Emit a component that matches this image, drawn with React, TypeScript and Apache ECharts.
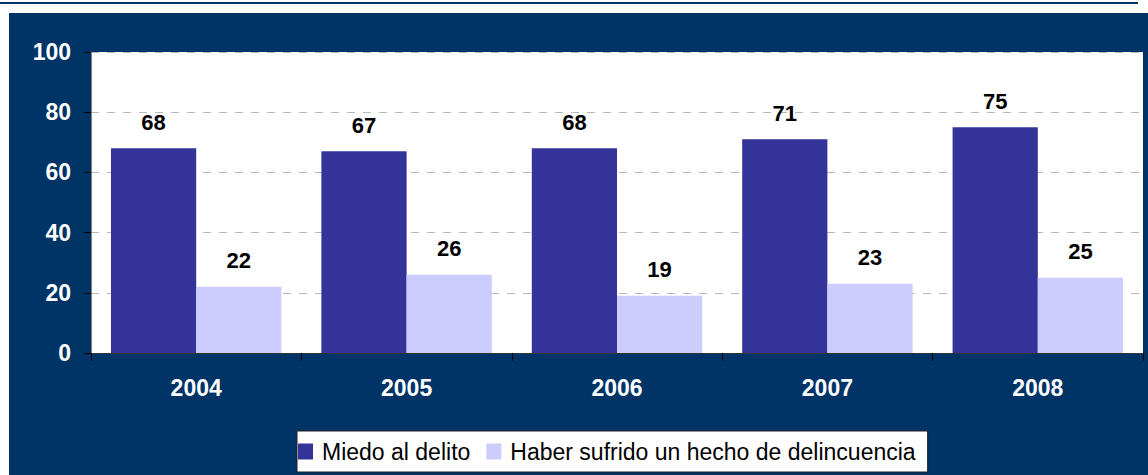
import React, { useEffect, useRef } from "react";
import * as echarts from "echarts";

const years = ["2004", "2005", "2006", "2007", "2008"];
const miedo = [68, 67, 68, 71, 75];
const sufrido = [22, 26, 19, 23, 25];
const seriesNames = ["Miedo al delito", "Haber sufrido un hecho de delincuencia"];

const FONT = "Arial, 'Liberation Sans', sans-serif";

export default function App() {
  const ref = useRef<HTMLDivElement>(null);
  useEffect(() => {
    document.body.style.margin = "0";
    const chart = echarts.init(ref.current!, null, { renderer: "svg" });
    const labelStyle = {
      show: true,
      position: "top",
      distance: 15,
      color: "#000000",
      fontWeight: "bold",
      fontSize: 22,
      fontFamily: FONT,
    };
    chart.setOption({
      animation: false,
      backgroundColor: "#ffffff",
      graphic: [
        { type: "rect", z: -10, shape: { x: 0, y: 2, width: 1138, height: 2 }, style: { fill: "#003366" } },
        { type: "rect", z: -10, shape: { x: 9, y: 13, width: 1139, height: 462 }, style: { fill: "#003366" } },
      ],
      grid: {
        left: 91,
        top: 52,
        right: 5,
        bottom: 122,
        show: true,
        backgroundColor: "#ffffff",
        borderWidth: 0,
      },
      legend: {
        left: 297,
        top: 431,
        data: seriesNames,
        icon: "rect",
        itemWidth: 15,
        itemHeight: 16,
        itemGap: 16,
        backgroundColor: "#ffffff",
        borderColor: "#222222",
        borderWidth: 1,
        padding: [9, 12, 9, 1],
        textStyle: { fontFamily: FONT, fontSize: 23, lineHeight: 23, color: "#000000", padding: [0, 0, 0, 4] },
      },
      xAxis: {
        type: "category",
        data: years,
        axisLine: { lineStyle: { color: "#333333", width: 1 } },
        axisTick: { show: true, alignWithLabel: false, length: 8, lineStyle: { color: "#000000" } },
        axisLabel: { color: "#ffffff", fontWeight: "bold", fontSize: 23, fontFamily: FONT, margin: 23 },
      },
      yAxis: {
        type: "value",
        min: 0,
        max: 100,
        interval: 20,
        axisLine: { show: true, lineStyle: { color: "#808080", width: 1 } },
        axisTick: { show: true, length: 7, lineStyle: { color: "#000000" } },
        axisLabel: { color: "#ffffff", fontWeight: "bold", fontSize: 23, fontFamily: FONT, margin: 20 },
        splitLine: { show: true, lineStyle: { color: "#b8b8b8", type: [8, 8], width: 1 } },
      },
      series: [
        {
          name: seriesNames[0],
          type: "bar",
          data: miedo,
          barGap: "0%",
          barCategoryGap: "19%",
          itemStyle: { color: "#333399" },
          label: labelStyle,
        },
        {
          name: seriesNames[1],
          type: "bar",
          data: sufrido,
          barGap: "0%",
          barCategoryGap: "19%",
          itemStyle: { color: "#CCCCFF" },
          label: labelStyle,
        },
      ],
    });
    return () => chart.dispose();
  }, []);
  return <div ref={ref} style={{ position: "absolute", left: 0, top: 0, width: 1148, height: 475 }} />;
}
